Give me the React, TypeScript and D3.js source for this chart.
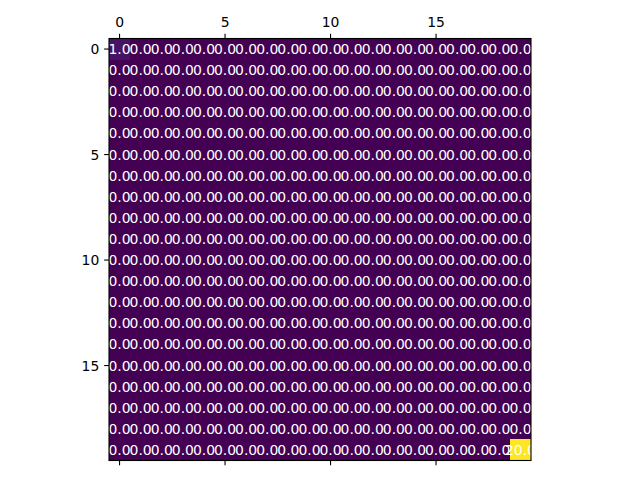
import React from "react";
import * as d3 from "d3";

const N = 20;
const rowIdx: number[] = d3.range(N);
const colIdx: number[] = d3.range(N);
// Nonzero entries: [row, col, value]; all others are 0
const nonZero: [number, number, number][] = [
  [0, 0, 1.0],
  [19, 19, 20.0],
];
const tickVals: number[] = [0, 5, 10, 15];

const matrix: number[][] = rowIdx.map((r) =>
  colIdx.map((c) => {
    const f = nonZero.find((e) => e[0] === r && e[1] === c);
    return f ? f[2] : 0;
  })
);

export default function App() {
  const left = 109;
  const top = 38.5;
  const size = 422;
  const x = d3.scaleLinear().domain([-0.5, N - 0.5]).range([left, left + size]);
  const y = d3.scaleLinear().domain([-0.5, N - 0.5]).range([top, top + size]);
  const vmax = d3.max(matrix.flat()) as number;
  const vmin = d3.min(matrix.flat()) as number;
  const color = d3.scaleSequential(d3.interpolateViridis).domain([vmin, vmax]);
  const cw = x(1) - x(0);
  const tl = 4.86;
  const font = "DejaVu Sans, sans-serif";

  return (
    <svg
      width={640}
      height={480}
      style={{ position: "absolute", left: 0, top: 0, background: "white" }}
    >
      <defs>
        <clipPath id="axclip">
          <rect x={left} y={top} width={size} height={size} />
        </clipPath>
      </defs>
      <g shapeRendering="crispEdges">
        {matrix.map((row, r) =>
          row.map((v, c) => (
            <rect
              key={`${r}-${c}`}
              x={x(c - 0.5)}
              y={y(r - 0.5)}
              width={cw + 0.3}
              height={cw + 0.3}
              fill={color(v)}
            />
          ))
        )}
      </g>
      <g fontFamily={font} fontSize={13.9} fill="white" clipPath="url(#axclip)">
        {matrix.map((row, r) =>
          row.map((v, c) => (
            <text
              key={`t${r}-${c}`}
              x={x(c)}
              y={y(r)}
              textAnchor="middle"
              dominantBaseline="central"
            >
              {v.toFixed(1)}
            </text>
          ))
        )}
      </g>
      <rect
        x={left}
        y={top}
        width={size}
        height={size}
        fill="none"
        stroke="black"
        strokeWidth={1.1}
      />
      <g stroke="black" strokeWidth={1.1}>
        {tickVals.map((t) => (
          <g key={`xt${t}`}>
            <line x1={x(t)} x2={x(t)} y1={top} y2={top - tl} />
            <line x1={x(t)} x2={x(t)} y1={top + size} y2={top + size + tl} />
            <line x1={left} x2={left - tl} y1={y(t)} y2={y(t)} />
          </g>
        ))}
      </g>
      <g fontFamily={font} fontSize={13.9} fill="black">
        {tickVals.map((t) => (
          <text key={`xl${t}`} x={x(t)} y={top - tl - 4.86 - 2} textAnchor="middle">
            {t}
          </text>
        ))}
        {tickVals.map((t) => (
          <text
            key={`yl${t}`}
            x={left - tl - 4.86}
            y={y(t)}
            textAnchor="end"
            dominantBaseline="central"
          >
            {t}
          </text>
        ))}
      </g>
    </svg>
  );
}
